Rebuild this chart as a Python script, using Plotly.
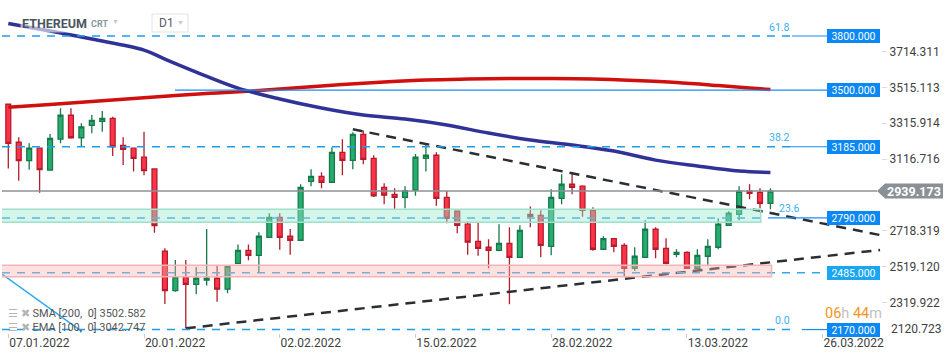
import pandas as pd
import plotly.graph_objects as go

# ---------------- data ----------------
dates = pd.date_range("2022-01-07", periods=74, freq="D")
open_ = [3421, 3210, 3108, 3177, 3056, 3227, 3360, 3235, 3304, 3326,
         3343, 3193, 3177, 3127, 3062, 2606, 2386, 2462, 2421, 2444,
         2455, 2394, 2538, 2610, 2582, 2682, 2793, 2688, 2666, 2993,
         3021, 2988, 3154, 3110, 3254, 3121, 2960, 2921, 2904, 2945,
         3121, 3138, 2904, 2827, 2755, 2660, 2627, 2610, 2649, 2571,
         2810, 2804, 2632, 2899, 2977, 2966, 2832, 2616, 2675, 2638,
         2510, 2571, 2727, 2621, 2588, 2599, 2510, 2577, 2627, 2749,
         2810, 2938, 2932, 2871]
high = [3421, 3238, 3204, 3180, 3256, 3399, 3399, 3315, 3361, 3384,
        3352, 3238, 3180, 3269, 3062, 2621, 2556, 2556, 2517, 2728,
        2523, 2521, 2643, 2643, 2710, 2816, 2816, 2728, 2977, 3060,
        3043, 3182, 3227, 3265, 3276, 3138, 2982, 2954, 2966, 3145,
        3195, 3154, 2939, 2830, 2771, 2762, 2671, 2755, 2738, 2749,
        2854, 2832, 2949, 3032, 3043, 2971, 2849, 2688, 2675, 2649,
        2627, 2777, 2738, 2677, 2616, 2605, 2616, 2671, 2788, 2827,
        2966, 2977, 2954, 2954]
low = [3065, 2997, 3058, 2930, 3052, 3204, 3230, 3185, 3260, 3269,
       3134, 3084, 3047, 3027, 2708, 2312, 2380, 2177, 2366, 2414,
       2325, 2371, 2538, 2555, 2486, 2682, 2613, 2586, 2666, 2966,
       2954, 2988, 3027, 3060, 3088, 2906, 2866, 2839, 2843, 2913,
       3047, 2858, 2760, 2705, 2586, 2580, 2510, 2605, 2310, 2571,
       2738, 2571, 2582, 2866, 2921, 2797, 2608, 2616, 2599, 2464,
       2495, 2571, 2566, 2532, 2571, 2510, 2505, 2521, 2616, 2749,
       2777, 2893, 2843, 2838]
close = [3204, 3108, 3177, 3058, 3232, 3360, 3235, 3296, 3332, 3343,
         3185, 3171, 3121, 3052, 2747, 2386, 2462, 2421, 2456, 2456,
         2394, 2521, 2610, 2582, 2688, 2793, 2682, 2666, 2960, 3021,
         2988, 3154, 3110, 3254, 3115, 2912, 2916, 2904, 2941, 3127,
         3138, 2899, 2788, 2749, 2655, 2621, 2610, 2649, 2571, 2721,
         2799, 2638, 2904, 2977, 2960, 2832, 2616, 2675, 2632, 2510,
         2577, 2727, 2616, 2538, 2599, 2510, 2582, 2632, 2755, 2816,
         2938, 2927, 2871, 2939.173]

# SMA(200) read at selected candles (index into dates)
sma_idx = [0, 4, 8, 12, 16, 20, 24, 28, 32, 36, 40, 44, 48, 52, 56, 60, 64, 68, 71, 73]
sma_val = [3404, 3420, 3436, 3453, 3470, 3484, 3497, 3514, 3531, 3545,
           3556, 3561, 3564, 3564, 3561, 3553, 3542, 3525, 3511, 3502.582]
# EMA(100) read at selected candles
ema_idx = [0, 4, 8, 13, 15, 18, 22, 26, 30, 34, 38, 42, 46, 50, 54, 58, 62, 66, 70, 73]
ema_val = [3870, 3828, 3783, 3722, 3672, 3600, 3511, 3450, 3400, 3361,
           3339, 3306, 3261, 3223, 3195, 3161, 3111, 3078, 3050, 3042.747]

# trend lines
upper_tl_dates = ["2022-02-09", "2022-03-31 12:00"]
upper_tl_price = [3282, 2695]
lower_tl_dates = ["2022-01-24", "2022-03-31 12:00"]
lower_tl_price = [2177, 2612]
fib_diag_dates = ["2022-01-06", "2022-01-14 01:30"]
fib_diag_price = [2494, 2158]

# levels
fib_levels = [3800, 3185, 2790, 2170]
fib_labels = ["61.8", "38.2", "23.6", "0.0"]
hline_solid = 3500
hline_dashed = 2485
last_price = 2939.173

green_zone = [2765.6, 2837.8]
green_zone_dates = ["2022-01-06", "2022-03-20 01:40"]
red_zone = [2463.5, 2526.8]
red_zone_dates = ["2022-01-06", "2022-03-21 02:30"]

ytick_vals = [3714.311, 3515.113, 3315.914, 3116.716, 2718.319, 2519.120, 2319.922]
ytick_text = ["3714.311", "3515.113", "3315.914", "3116.716", "2718.319", "2519.120", "2319.922"]
ylabel_bottom = "2120.723"
xtick_dates = ["2022-01-07", "2022-01-20", "2022-02-02", "2022-02-15",
               "2022-02-28", "2022-03-13", "2022-03-26"]
xtick_text = ["07.01.2022", "20.01.2022", "02.02.2022", "15.02.2022",
              "28.02.2022", "13.03.2022", "26.03.2022"]

# ---------------- layout helpers ----------------
W, H = 950, 360
ML, MR, MT, MB = 2, 69, 0, 27
PW = W - ML - MR
PH = H - MT - MB


def px(x):
    return (x - ML) / PW


def py(y):
    return (PH - (y - MT)) / PH


x0 = pd.Timestamp("2022-01-07") + pd.Timedelta(days=-0.6034)
x1 = pd.Timestamp("2022-01-07") + pd.Timedelta(days=83.59)

FIB_DASH = "8px,7px"
FIB_COL = "#1f9ee8"
BOX_COL = "#0b88f3"

fig = go.Figure()

fig.add_trace(go.Candlestick(
    x=dates, open=open_, high=high, low=low, close=close,
    increasing=dict(line=dict(color="#17794b", width=1.3), fillcolor="#25ad6e"),
    decreasing=dict(line=dict(color="#b21d2d", width=1.3), fillcolor="#ff3347"),
    whiskerwidth=0, showlegend=False, hoverinfo="skip"))

fig.add_trace(go.Scatter(x=[dates[i] for i in sma_idx], y=sma_val, mode="lines",
                         line=dict(color="#d0100f", width=3.5, shape="spline"),
                         hoverinfo="skip"))
fig.add_trace(go.Scatter(x=[dates[i] for i in ema_idx], y=ema_val, mode="lines",
                         line=dict(color="#2f3296", width=3.5, shape="spline"),
                         hoverinfo="skip"))

for d, p in [(upper_tl_dates, upper_tl_price), (lower_tl_dates, lower_tl_price)]:
    fig.add_trace(go.Scatter(x=d, y=p, mode="lines",
                             line=dict(color="#2b2f33", width=2.5, dash="10px,7px"),
                             hoverinfo="skip"))
fig.add_trace(go.Scatter(x=fib_diag_dates, y=fib_diag_price, mode="lines",
                         line=dict(color="#29a9f0", width=1.5), hoverinfo="skip"))

shapes = []
# fib dashed lines and connectors
fib_dash_end = [795, 790, 762, 795]
fib_conn_start = [792, 790, 768, 802]
for lv, de, cs in zip(fib_levels, fib_dash_end, fib_conn_start):
    shapes.append(dict(type="line", xref="paper", yref="y", x0=px(2), x1=px(de), y0=lv, y1=lv,
                       line=dict(color=FIB_COL, width=1.5, dash=FIB_DASH), layer="above"))
    shapes.append(dict(type="line", xref="paper", yref="y", x0=px(cs), x1=px(827), y0=lv, y1=lv,
                       line=dict(color="#1a8cf0", width=1.2), layer="above"))
shapes.append(dict(type="line", xref="paper", yref="y", x0=px(175), x1=px(827),
                   y0=hline_solid, y1=hline_solid,
                   line=dict(color="#1a8cf0", width=1.3), layer="above"))
shapes.append(dict(type="line", xref="paper", yref="y", x0=px(2), x1=px(827),
                   y0=hline_dashed, y1=hline_dashed,
                   line=dict(color="#29aaf2", width=1.5, dash=FIB_DASH), layer="above"))
# zones
shapes.append(dict(type="rect", xref="x", yref="y", x0=green_zone_dates[0], x1=green_zone_dates[1],
                   y0=green_zone[0], y1=green_zone[1], fillcolor="rgba(156,231,206,0.43)",
                   line=dict(color="#9fe0c8", width=1.5), layer="above"))
shapes.append(dict(type="rect", xref="x", yref="y", x0=red_zone_dates[0], x1=red_zone_dates[1],
                   y0=red_zone[0], y1=red_zone[1], fillcolor="rgba(249,177,177,0.4)",
                   line=dict(color="#f4b4b4", width=1.5), layer="above"))
# current price line + tag
shapes.append(dict(type="line", xref="paper", yref="y", x0=0, x1=px(877), y0=last_price, y1=last_price,
                   line=dict(color="#8d9196", width=1.5), layer="above"))
yt = (PH - (4000 - last_price) / (4000 - 2150.9) * PH) / PH
hh = 7.5 / PH
shapes.append(dict(type="path", xref="paper", yref="paper",
                   path=f"M {px(877)},{yt} L {px(885)},{yt+hh} L {px(943)},{yt+hh} "
                        f"L {px(943)},{yt-hh} L {px(885)},{yt-hh} Z",
                   fillcolor="#8a9096", line=dict(width=0), layer="above"))
# D1 box
shapes.append(dict(type="rect", xref="paper", yref="paper", x0=px(152), x1=px(188),
                   y0=py(32), y1=py(14), fillcolor="white",
                   line=dict(color="#e2e2e2", width=1), layer="above"))

ann = []
# header
ann.append(dict(xref="paper", yref="paper", x=px(20), y=py(23), xanchor="left", yanchor="middle",
                text="<b>ETHEREUM</b>", showarrow=False,
                font=dict(size=12.5, color="#4b565f"), bgcolor="rgba(255,255,255,0.6)"))
ann.append(dict(xref="paper", yref="paper", x=px(89), y=py(24), xanchor="left", yanchor="middle",
                text="<b>CRT</b>", showarrow=False, font=dict(size=9, color="#8a97a3")))
ann.append(dict(xref="paper", yref="paper", x=px(115.5), y=py(22), xanchor="center", yanchor="middle",
                text="▼", showarrow=False, font=dict(size=7, color="#c4c8cc")))
ann.append(dict(xref="paper", yref="paper", x=px(157), y=py(23), xanchor="left", yanchor="middle",
                text="D1", showarrow=False, font=dict(size=12, color="#555b61")))
ann.append(dict(xref="paper", yref="paper", x=px(180), y=py(23), xanchor="center", yanchor="middle",
                text="▼", showarrow=False, font=dict(size=7, color="#c4c8cc")))
# legend rows
for txt, yy in [("SMA [200,  0] 3502.582", 313), ("EMA [100,  0] 3042.747", 327)]:
    ann.append(dict(xref="paper", yref="paper", x=px(6), y=py(yy), xanchor="left", yanchor="middle",
                    text="<span style='color:#b5b5b5'>☰ ✖</span> " + txt, showarrow=False,
                    font=dict(size=11, color="#555555")))
# fib labels
fib_lab_right = [792, 792, 802, 792]
for lv, lab, xr in zip(fib_levels, fib_labels, fib_lab_right):
    ann.append(dict(xref="paper", yref="y", x=px(xr), y=lv, xanchor="right", yanchor="middle",
                    yshift=9, text=lab, showarrow=False, font=dict(size=10.5, color="#3aaff0")))
# level boxes
box_levels = [3800, 3500, 3185, 2790, 2485, 2170]
box_cols = [BOX_COL, BOX_COL, BOX_COL, BOX_COL, "#1aa6f3", BOX_COL]
for lv, col in zip(box_levels, box_cols):
    ann.append(dict(xref="paper", yref="y", x=px(853.5), y=lv, xanchor="center", yanchor="middle",
                    text=f"{lv:.3f}", showarrow=False, bgcolor=col, borderwidth=0, borderpad=1,
                    width=51, height=12, font=dict(size=10.5, color="white")))
# price tag text
ann.append(dict(xref="paper", yref="y", x=px(914), y=last_price, xanchor="center", yanchor="middle",
                text=f"<b>{last_price:.3f}</b>", showarrow=False, font=dict(size=12.5, color="white")))
# countdown
ann.append(dict(xref="paper", yref="paper", x=px(823), y=py(313), xanchor="left", yanchor="middle",
                text="<span style='color:#f7941d'>06</span><span style='color:#c2c2c2'>h</span> "
                     "<span style='color:#f7941d'>44</span><span style='color:#c2c2c2'>m</span>",
                showarrow=False, font=dict(size=14.5)))
# clamped bottom price label
ann.append(dict(xref="paper", yref="paper", x=px(889), y=py(329), xanchor="left", yanchor="middle",
                text=ylabel_bottom, showarrow=False, font=dict(size=12, color="#3f3f3f")))

fig.update_layout(
    width=W, height=H, margin=dict(l=ML, r=MR, t=MT, b=MB),
    paper_bgcolor="white", plot_bgcolor="white", showlegend=False,
    font=dict(family="Roboto", size=12, color="#3f3f3f"),
    boxgap=0.33,
    shapes=shapes, annotations=ann,
    xaxis=dict(type="date", range=[x0, x1], rangeslider=dict(visible=False),
               showgrid=False, zeroline=False, showline=False,
               tickvals=xtick_dates, ticktext=xtick_text, ticks="outside", ticklen=4,
               tickcolor="#cccccc", ticklabelshift=31, ticklabelstandoff=-5,
               tickfont=dict(size=12, color="#3f3f3f")),
    yaxis=dict(side="right", range=[2150.9, 4000], showgrid=False, zeroline=False, showline=False,
               tickvals=ytick_vals, ticktext=ytick_text, ticks="outside", ticklen=5,
               tickcolor="#dddddd", tickfont=dict(size=12, color="#3f3f3f")),
)

fig.write_html("out.html", config={"displayModeBar": False},
               post_script="document.body.style.margin='0';document.body.style.padding='0';")
